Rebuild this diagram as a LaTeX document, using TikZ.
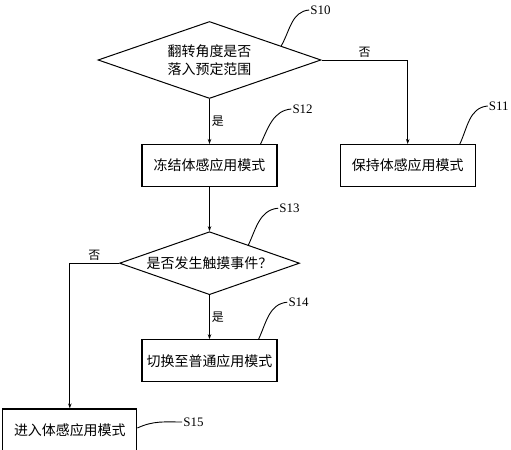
\documentclass[tikz,border=0pt]{standalone}
\usepackage{fontspec}
\setmainfont{Noto Sans CJK SC}
\newfontfamily\tagfont{Liberation Serif}
\usetikzlibrary{positioning,arrows.meta,shapes.geometric,calc}

\begin{document}
\begin{tikzpicture}[
  x=1bp,y=1bp,
  node distance=44bp,
  stepbox/.style={rectangle,draw,line width=1.2bp,
              minimum width=135bp,minimum height=42bp,
              inner sep=0pt,font=\fontsize{14}{18}\selectfont},
  decision/.style={diamond,draw,line width=1bp,aspect=2.9,inner sep=0pt,
              align=center,font=\fontsize{14}{18}\selectfont},
  arrow/.style={-{Stealth[length=5bp,width=3.5bp]},line width=0.9bp},
  lead/.style={line width=0.9bp},
  tag/.style={font=\tagfont\fontsize{13}{13}\selectfont,inner sep=1bp},
  answer/.style={font=\fontsize{12}{12}\selectfont,inner sep=2bp}
]
  \useasboundingbox (0,0) rectangle (511,450);
  \node[decision,minimum width=223bp,minimum height=77bp] (s10) at (209.5,390)
       {翻转角度是否\\落入预定范围};
  \node[stepbox,below=45bp of s10] (s12) {冻结体感应用模式};
  \node[stepbox,right=62bp of s12] (s11) {保持体感应用模式};
  \node[decision,minimum width=180bp,minimum height=63bp,below=of s12] (s13)
       {是否发生触摸事件？};
  \node[stepbox,below=of s13] (s14) {切换至普通应用模式};
  \node[stepbox,minimum width=134bp,below left=26bp and 4bp of s14.south west] (s15)
       {进入体感应用模式};

  \node[tag] (t10) at ($(s10.north)+(111,11)$) {S10};
  \node[tag] (t12) at ($(s12.north east)+(25,35)$) {S12};
  \node[tag] (t11) at ($(s11.north east)+(23,38)$) {S11};
  \node[tag] (t13) at ($(s13.north)+(80,23)$) {S13};
  \node[tag] (t14) at ($(s14.north east)+(21,37)$) {S14};
  \node[tag] (t15) at ($(s15.east)+(56,8)$) {S15};

  \draw[arrow] (s10) -- node[answer,right]{是} (s12);
  \draw[arrow] (s10.east) -| node[answer,above,pos=0.25]{否} (s11.north);
  \draw[arrow] (s12) -- (s13);
  \draw[arrow] (s13) -- node[answer,right]{是} (s14);
  \draw[arrow] (s13.west) -| node[answer,above,pos=0.25]{否} (s15.north);

  \draw[lead] ($(s10.north)!0.64!(s10.east)$) to[out=60,in=185] (t10.west);
  \draw[lead] ($(s12.north east)+(-17,0)$) to[out=65,in=185] (t12.west);
  \draw[lead] ($(s11.north east)+(-16,0)$) to[out=65,in=185] (t11.west);
  \draw[lead] ($(s13.north)!0.43!(s13.east)$) to[out=65,in=185] (t13.west);
  \draw[lead] ($(s14.north east)+(-19,0)$) to[out=65,in=185] (t14.west);
  \draw[lead] ($(s15.east)+(0,2)$) to[out=25,in=180] (t15.west);
\end{tikzpicture}
\end{document}
